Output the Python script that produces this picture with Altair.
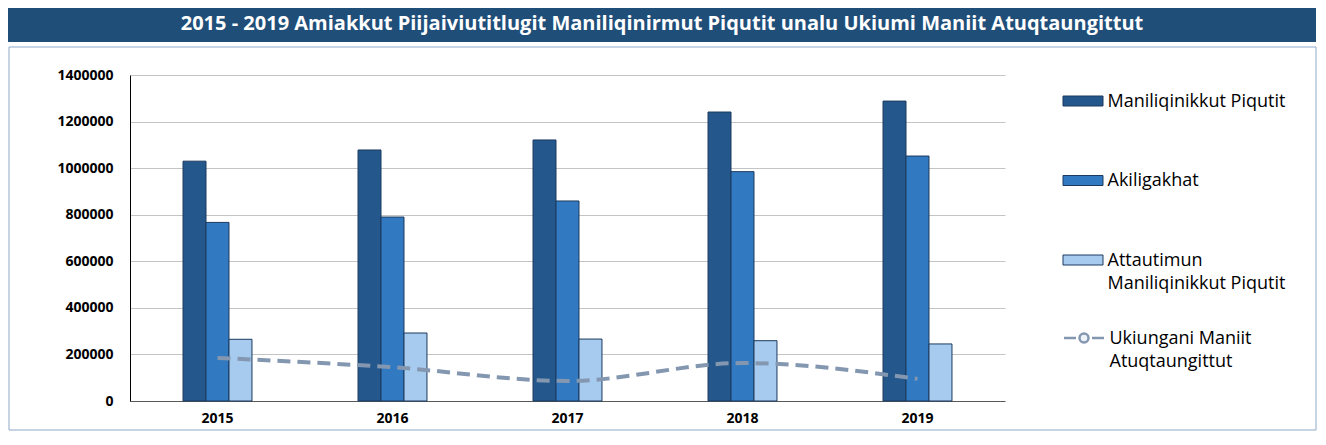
import altair as alt
import pandas as pd

# ---------------- data ----------------
years = ["2015", "2016", "2017", "2018", "2019"]
series = ["Maniliqinikkut Piqutit", "Akiligakhat", "Attautimun Maniliqinikkut Piqutit"]
maniliqinikkut = [1030000, 1078000, 1121000, 1241000, 1288000]
akiligakhat = [767000, 790000, 859000, 985000, 1052000]
attautimun = [265000, 292000, 266000, 259000, 245000]
line_name = "Ukiungani Maniit Atuqtaungittut"
ukiungani = [185000, 145000, 86000, 163000, 95000]
y_ticks = [0, 200000, 400000, 600000, 800000, 1000000, 1200000, 1400000]
title_text = "2015 - 2019 Amiakkut Piijaiviutitlugit Maniliqinirmut Piqutit unalu Ukiumi Maniit Atuqtaungittut"
legend_lines = {
    "Maniliqinikkut Piqutit": ["Maniliqinikkut Piqutit", ""],
    "Akiligakhat": ["Akiligakhat", ""],
    "Attautimun Maniliqinikkut Piqutit": ["Attautimun", "Maniliqinikkut Piqutit"],
    "Ukiungani Maniit Atuqtaungittut": ["Ukiungani Maniit", "Atuqtaungittut"],
}

bar_colors = ["#24578B", "#3179C0", "#A6CBEE"]
bar_stroke = "#1C3A5E"
line_color = "#8497B0"
banner_color = "#1F4E79"
FONT = "Open Sans"

rows = []
for vals, s in zip([maniliqinikkut, akiligakhat, attautimun], series):
    for y, v in zip(years, vals):
        rows.append({"year": y, "series": s, "value": v})
bar_df = pd.DataFrame(rows)
line_df = pd.DataFrame({"year": years, "series": [line_name] * len(years), "value": ukiungani})
title_df = pd.DataFrame({"t": [title_text]})


def label_expr():
    parts = []
    for k, (a, b) in legend_lines.items():
        parts.append(f"datum.label == '{k}' ? ['{a}', '{b}']")
    return " : ".join(parts) + " : [datum.label, '']"


W, H = 875, 326

bar_symbol = "M-2,0.65H2V1.65H-2Z"
line_symbol = ("M-2,1.15H-0.8M0.8,1.15H2"
               "M0.45,1.15A0.45,0.45 0 1 1 -0.45,1.15A0.45,0.45 0 1 1 0.45,1.15Z")

# decorative frame and banner
border = alt.Chart(title_df).mark_rect(fill=None, stroke="#8EA9C9", strokeWidth=1).encode(
    x=alt.value(-121), x2=alt.value(1186), y=alt.value(-28), y2=alt.value(355)
)
banner = alt.Chart(title_df).mark_rect(fill=banner_color).encode(
    x=alt.value(-122), x2=alt.value(1186), y=alt.value(-67), y2=alt.value(-33)
)
title = alt.Chart(title_df).mark_text(
    font=FONT, fontSize=20, fontWeight="bold", color="white", align="center", baseline="middle"
).encode(text="t:N", x=alt.value(532), y=alt.value(-51))

bars = alt.Chart(bar_df).mark_bar(stroke=bar_stroke, strokeWidth=1).encode(
    x=alt.X(
        "year:N", sort=years,
        scale=alt.Scale(paddingInner=0.606, paddingOuter=0.303),
        axis=alt.Axis(title=None, labelAngle=0, labelFont=FONT, labelFontWeight="bold",
                      labelFontSize=14, labelColor="#000000", labelPadding=10, ticks=False,
                      domainColor="#595959", domainWidth=1, grid=False),
    ),
    xOffset=alt.XOffset("series:N", sort=series, scale=alt.Scale(paddingInner=0, paddingOuter=0)),
    y=alt.Y(
        "value:Q",
        scale=alt.Scale(domain=[0, 1400000], nice=False),
        axis=alt.Axis(title=None, values=y_ticks, format="d", labelFont=FONT,
                      labelFontWeight="bold", labelFontSize=14, labelColor="#000000",
                      labelPadding=17, ticks=False, domainColor="#000000", domainWidth=1,
                      gridColor="#C4C4C4", gridWidth=1),
    ),
    fill=alt.Fill(
        "series:N", sort=series,
        scale=alt.Scale(domain=series, range=bar_colors),
        legend=alt.Legend(
            title=None, orient="none", legendX=933, legendY=4,
            symbolType=bar_symbol, symbolSize=400, symbolStrokeColor=bar_stroke,
            symbolStrokeWidth=1, symbolOffset=9.5, labelOffset=14,
            labelFont=FONT, labelFontSize=18, labelColor="#000000",
            labelBaseline="line-top", labelExpr=label_expr(), labelLimit=400,
            rowPadding=24.5,
        ),
    ),
)

line = alt.Chart(line_df).mark_line(
    strokeWidth=4, strokeDash=[13, 7], interpolate="monotone"
).encode(
    x=alt.X("year:N", sort=years),
    y=alt.Y("value:Q"),
    stroke=alt.Stroke(
        "series:N",
        scale=alt.Scale(domain=[line_name], range=[line_color]),
        legend=alt.Legend(
            title=None, orient="none", legendX=933, legendY=240,
            symbolType=line_symbol, symbolSize=400, symbolStrokeWidth=2.5,
            symbolFillColor="#EEF3F9", symbolOffset=9.5, labelOffset=14,
            labelFont=FONT, labelFontSize=18, labelColor="#000000",
            labelBaseline="line-top", labelExpr=label_expr(), labelLimit=400,
        ),
    ),
)

chart = alt.layer(border, banner, title, bars, line).properties(
    width=W, height=H, padding=0
).configure(
    style={"guide-label": {"lineHeight": 23}},
    view=alt.ViewConfig(stroke=None),
)

chart.save("out.html", embed_options={"renderer": "svg", "actions": False})
